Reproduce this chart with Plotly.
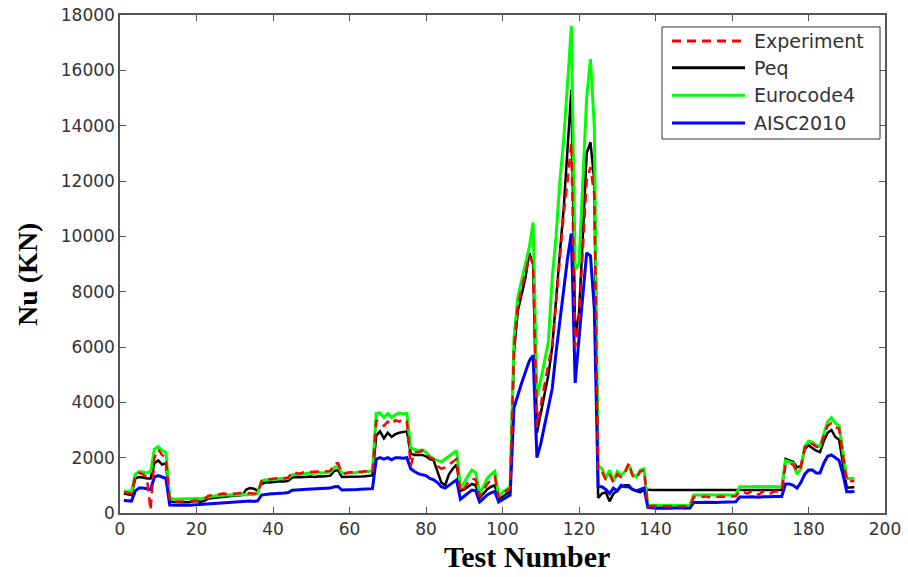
import plotly.graph_objects as go

test_number = list(range(1, 193))

experiment = [
    750, 720, 700, 1350, 1450, 1400, 1300, 100, 2000, 2300,
    2100, 2000, 450, 420, 420, 430, 420, 410, 440, 450,
    430, 460, 620, 650, 660, 680, 700, 690, 710, 700,
    720, 730, 700, 720, 700, 720, 1150, 1220, 1220, 1240,
    1250, 1270, 1260, 1280, 1480, 1460, 1420, 1470, 1480, 1490,
    1480, 1500, 1490, 1510, 1520, 1780, 1800, 1450, 1430, 1470,
    1460, 1500, 1480, 1520, 1480, 1450, 3350, 3250, 3150, 3300,
    3200, 3350, 3300, 3400, 3300, 1700, 2200, 2200, 2250, 2150,
    2000, 1950, 1700, 1600, 1650, 1750, 1850, 1950, 750, 900,
    1100, 1250, 1200, 600, 800, 1050, 1200, 1300, 550, 700,
    800, 900, 6000, 7500, 8100, 8700, 9300, 9000, 3100, 3900,
    4700, 5400, 6000, 7600, 9200, 10800, 12000, 13400, 6000, 7000,
    9500, 12000, 12500, 11500, 1500, 1500, 1200, 1400, 1100, 1400,
    1300, 1450, 1800, 1350, 1250, 1500, 1550, 250, 250, 260,
    250, 240, 250, 260, 250, 240, 250, 260, 250, 580,
    560, 580, 600, 570, 560, 580, 600, 590, 570, 600,
    610, 780, 760, 700, 780, 770, 650, 780, 760, 700,
    780, 790, 780, 1750, 1800, 1750, 1500, 1650, 2350, 2550,
    2500, 2400, 2350, 2800, 3150, 3250, 3100, 3050, 2100, 1150,
    1150, 1160,
]

peq = [
    700, 680, 650, 1250, 1300, 1280, 1250, 1250, 1800, 1900,
    1750, 1800, 420, 400, 400, 410, 400, 390, 420, 430,
    410, 430, 520, 540, 560, 580, 600, 600, 610, 620,
    640, 650, 850, 900, 880, 800, 1050, 1100, 1100, 1120,
    1130, 1150, 1140, 1160, 1280, 1300, 1290, 1300, 1320, 1320,
    1300, 1330, 1320, 1340, 1350, 1520, 1550, 1300, 1300, 1310,
    1300, 1320, 1320, 1330, 1340, 1360, 2800, 2950, 2700, 2900,
    2750, 2850, 2900, 2920, 2950, 2150, 2100, 2100, 2100, 2050,
    1950, 1900, 1500, 1100, 1000, 1400, 1600, 1750, 800, 850,
    950, 1050, 1000, 550, 700, 850, 950, 1000, 500, 600,
    700, 780, 5800, 7300, 7900, 8500, 9400, 9000, 2900, 3600,
    4400, 5000, 6000, 7800, 9400, 11000, 13000, 15300, 6400, 7200,
    10000, 13000, 13400, 12000, 550, 700, 750, 420, 700, 800,
    950, 1000, 1000, 850, 800, 750, 850, 830, 830, 830,
    830, 830, 830, 830, 830, 830, 830, 830, 830, 830,
    830, 830, 830, 830, 830, 830, 830, 830, 830, 830,
    830, 830, 830, 830, 830, 830, 830, 830, 830, 830,
    830, 830, 830, 1950, 1900, 1850, 1650, 1700, 2300, 2450,
    2350, 2250, 2200, 2600, 2900, 3000, 2750, 2650, 1800, 920,
    920, 930,
]

eurocode4 = [
    800, 780, 760, 1400, 1500, 1480, 1450, 1500, 2300, 2400,
    2250, 2200, 550, 500, 500, 520, 510, 500, 520, 530,
    510, 540, 580, 600, 620, 630, 650, 640, 660, 650,
    670, 680, 650, 680, 660, 700, 1150, 1200, 1200, 1220,
    1230, 1250, 1240, 1260, 1380, 1400, 1390, 1420, 1440, 1450,
    1440, 1460, 1450, 1470, 1480, 1650, 1680, 1450, 1440, 1460,
    1450, 1470, 1480, 1490, 1500, 1540, 3600, 3620, 3450, 3600,
    3450, 3550, 3620, 3580, 3600, 2350, 2300, 2250, 2280, 2200,
    2050, 1950, 1900, 1850, 1950, 2050, 2150, 2250, 900, 1100,
    1350, 1550, 1450, 700, 950, 1250, 1400, 1500, 600, 750,
    850, 950, 6300, 7800, 8400, 9000, 9600, 10500, 4200, 4800,
    5500, 6200, 8500, 10000, 12000, 13500, 15500, 17600, 8800, 9000,
    12000, 15000, 16400, 14000, 1700, 1600, 1250, 1550, 1150, 1500,
    1350, 1500, 1750, 1400, 1300, 1550, 1600, 250, 280, 290,
    280, 270, 280, 290, 280, 270, 280, 290, 280, 650,
    640, 650, 660, 650, 640, 650, 660, 650, 640, 650,
    660, 950, 950, 940, 950, 960, 950, 940, 950, 960,
    950, 950, 960, 1900, 1850, 1800, 1400, 1600, 2400, 2600,
    2550, 2450, 2400, 2900, 3300, 3450, 3250, 3150, 2200, 1250,
    1250, 1260,
]

aisc2010 = [
    450, 450, 430, 800, 900, 900, 880, 850, 1300, 1350,
    1300, 1250, 290, 280, 280, 290, 280, 280, 290, 300,
    290, 300, 330, 340, 350, 360, 370, 370, 380, 380,
    390, 400, 420, 430, 420, 440, 650, 680, 690, 700,
    700, 720, 720, 740, 820, 830, 830, 850, 860, 870,
    860, 880, 880, 890, 900, 950, 960, 830, 830, 840,
    840, 850, 860, 860, 870, 880, 1950, 2000, 1950, 2000,
    1920, 2000, 2000, 1980, 2000, 1600, 1500, 1420, 1380, 1350,
    1250, 1200, 1100, 950, 900, 1000, 1100, 1200, 500, 600,
    720, 830, 800, 400, 520, 650, 730, 780, 400, 480,
    580, 650, 3800, 4300, 4700, 5100, 5500, 5700, 2000, 2500,
    3200, 3900, 4500, 5800, 7000, 8100, 9200, 10100, 4700, 6300,
    7800, 9400, 9300, 7400, 950, 950, 850, 700, 900, 800,
    1000, 950, 950, 850, 800, 850, 900, 200, 180, 170,
    180, 170, 180, 170, 180, 190, 180, 170, 180, 380,
    370, 380, 390, 380, 370, 380, 390, 400, 390, 400,
    410, 580, 570, 580, 590, 580, 570, 590, 580, 590,
    600, 590, 600, 1050, 1050, 1000, 900, 1100, 1400, 1550,
    1550, 1450, 1450, 1800, 2050, 2100, 2000, 1900, 1400, 770,
    770, 780,
]

series_names = ["Experiment", "Peq", "Eurocode4", "AISC2010"]
series_colors = ["#ff0000", "#000000", "#00ff00", "#0000ff"]
series_dash = ["9px,6px", "solid", "solid", "solid"]
series_width = [2.5, 2.5, 3, 3]
series_values = [experiment, peq, eurocode4, aisc2010]

fig = go.Figure()
# draw order: Peq, Eurocode4, AISC2010, then Experiment on top
for i in [1, 2, 3, 0]:
    fig.add_trace(go.Scatter(
        x=test_number, y=series_values[i], mode="lines", name=series_names[i],
        line=dict(color=series_colors[i], width=series_width[i], dash=series_dash[i]),
        showlegend=False,
    ))

# legend box drawn in paper coordinates (legend key styling)
leg_x0, leg_x1, leg_y0, leg_y1 = 0.7085, 0.9935, 0.751, 0.976
row_y = [0.948, 0.894, 0.839, 0.783]
shapes = [dict(type="rect", xref="paper", yref="paper", x0=leg_x0, x1=leg_x1,
               y0=leg_y0, y1=leg_y1, line=dict(color="#333333", width=1),
               fillcolor="white", layer="above")]
annotations = []
for i, name in enumerate(series_names):
    shapes.append(dict(type="line", xref="paper", yref="paper", x0=0.7216, x1=0.817,
                       y0=row_y[i], y1=row_y[i], layer="above",
                       line=dict(color=series_colors[i], width=3, dash=series_dash[i])))
    annotations.append(dict(text=name, xref="paper", yref="paper", x=0.826, y=row_y[i],
                            xanchor="left", yanchor="middle", showarrow=False,
                            font=dict(family="DejaVu Sans", size=19, color="#333333")))

# axis titles
annotations.append(dict(text="<b>Test Number</b>", xref="paper", yref="paper",
                        x=(527 - 120) / 765, y=-(556 - 513) / 498,
                        xanchor="center", yanchor="middle", showarrow=False,
                        font=dict(family="Liberation Serif", size=30, color="#000000")))
annotations.append(dict(text="<b>Nu (KN)</b>", xref="paper", yref="paper",
                        x=(27 - 120) / 765, y=(513 - 275) / 498, textangle=-90,
                        xanchor="center", yanchor="middle", showarrow=False,
                        font=dict(family="Liberation Serif", size=28, color="#000000")))

tickfont = dict(family="DejaVu Sans", size=17, color="#333333")
axis_common = dict(
    ticks="inside", ticklen=6, tickcolor="#555555", tickwidth=1,
    showline=True, linecolor="#555555", linewidth=1.5, mirror="ticks",
    showgrid=False, zeroline=False, tickfont=tickfont, automargin=False,
)

fig.update_layout(
    width=908, height=577,
    margin=dict(l=120, r=23, t=15, b=64),
    paper_bgcolor="white", plot_bgcolor="white",
    xaxis=dict(range=[0, 200], tick0=0, dtick=20, **axis_common),
    yaxis=dict(range=[0, 18000], tick0=0, dtick=2000, tickformat="d", **axis_common),
    shapes=shapes,
    annotations=annotations,
    showlegend=False,
)

fig.write_html("out.html")
